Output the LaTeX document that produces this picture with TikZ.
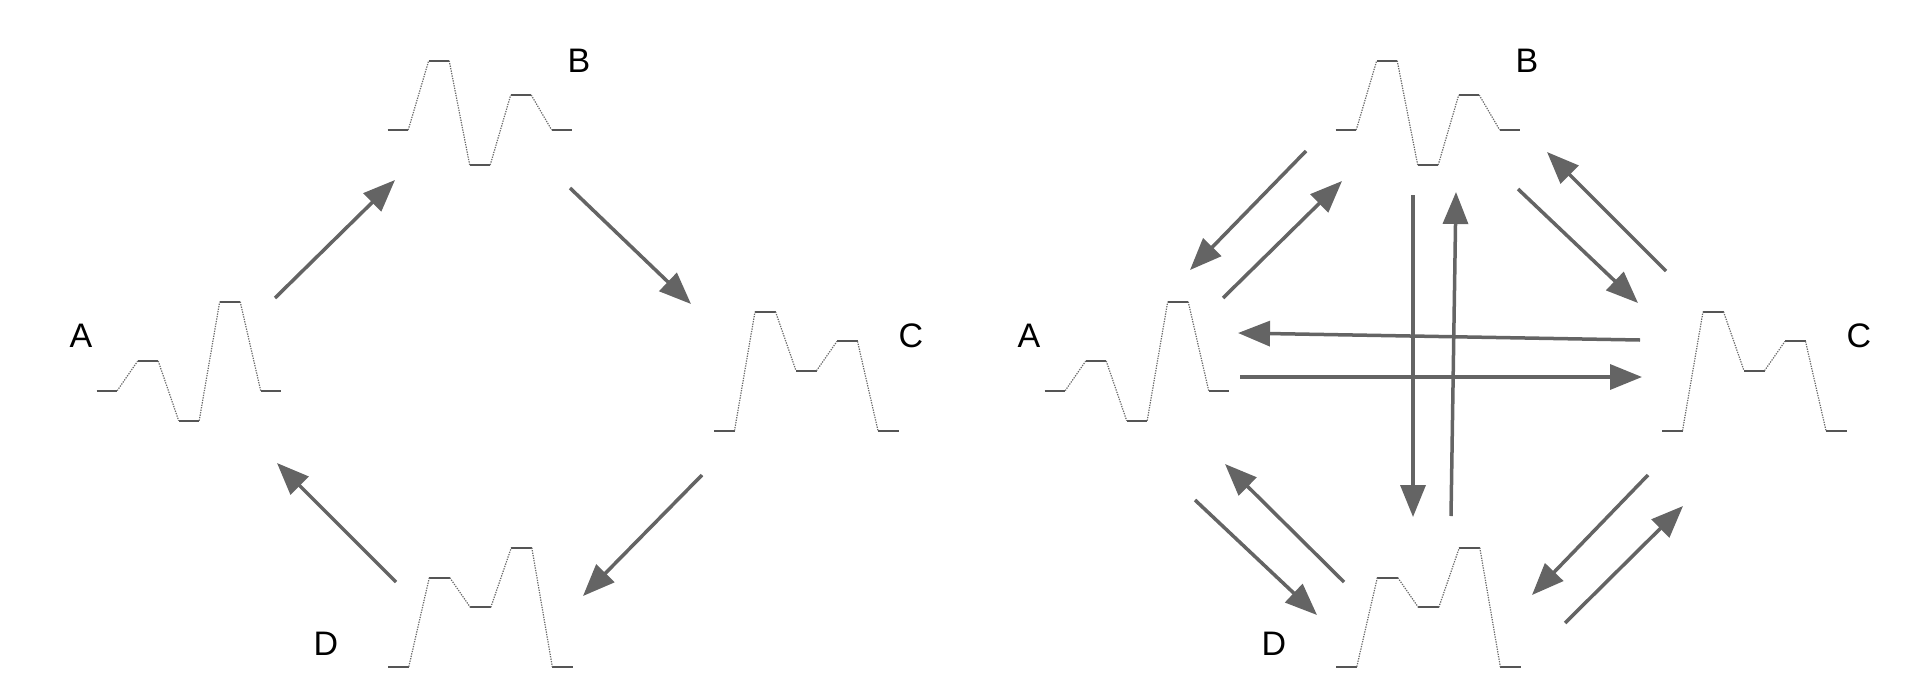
\documentclass[tikz,border=0pt]{standalone}
\usepackage{fontspec}
\setmainfont{Liberation Sans}
\usetikzlibrary{arrows.meta}
\definecolor{arrgray}{HTML}{646464}
\definecolor{platgray}{HTML}{555555}
\definecolor{dotgray}{HTML}{6A6A6A}
\tikzset{
  plat/.style={draw=platgray, line width=2pt},
  trans/.style={draw=dotgray, line width=1.2pt, dash pattern=on 1.3pt off 1.2pt},
  flow/.style={draw=arrgray, line width=3.5pt, -{Triangle[length=32pt,width=25pt]}},
  lbl/.style={font=\fontsize{34}{40}\selectfont, text=black, inner sep=0pt}
}
\newcommand\eprof[6]{%
  \draw[plat] (#1,#2) -- ++(20.5,0) (#1+41,#3) -- ++(20.5,0) (#1+82,#4) -- ++(20.5,0) (#1+123,#5) -- ++(20.5,0) (#1+164,#6) -- ++(20.5,0);
  \draw[trans] (#1+20.5,#2) -- (#1+41,#3) (#1+61.5,#3) -- (#1+82,#4) (#1+102.5,#4) -- (#1+123,#5) (#1+143.5,#5) -- (#1+164,#6);
}
\begin{document}
\begin{tikzpicture}[x=1pt,y=-1pt]
\useasboundingbox (0,0) rectangle (1908,691);
% ---- left diagram: profiles
\eprof{96.7}{390.7}{361}{420.7}{301.7}{390.7}
\eprof{387.7}{130}{60.7}{165}{95}{130}
\eprof{714}{430.7}{311.7}{370.7}{341.3}{430.7}
\eprof{388.3}{666.7}{577.7}{607.3}{547.7}{666.7}
% ---- right diagram: profiles
\eprof{1044.7}{390.7}{361}{420.7}{301.7}{390.7}
\eprof{1335.7}{130}{60.7}{165}{95}{130}
\eprof{1662}{430.7}{311.7}{370.7}{341.3}{430.7}
\eprof{1336.3}{666.7}{577.7}{607.3}{547.7}{666.7}
% ---- labels
\node[lbl] (lA) at (81,336) {A};
\node[lbl] (lB) at (579,61) {B};
\node[lbl] (lC) at (911,336) {C};
\node[lbl] (lD) at (326,644) {D};
\node[lbl] (rA) at (1029,336) {A};
\node[lbl] (rB) at (1527,61) {B};
\node[lbl] (rC) at (1859,336) {C};
\node[lbl] (rD) at (1274,644) {D};
% ---- left arrow endpoints
\coordinate (lab1) at (275,298);
\coordinate (lab2) at (395,180);
\coordinate (lbc1) at (570,188);
\coordinate (lbc2) at (691,304);
\coordinate (lcd1) at (702,475);
\coordinate (lcd2) at (583,596);
\coordinate (lda1) at (396,582);
\coordinate (lda2) at (277,463);
\draw[flow] (lab1) -- (lab2);
\draw[flow] (lbc1) -- (lbc2);
\draw[flow] (lcd1) -- (lcd2);
\draw[flow] (lda1) -- (lda2);
% ---- right arrow endpoints
\coordinate (rba1) at (1306,151);
\coordinate (rba2) at (1190,270);
\coordinate (rab1) at (1223,298);
\coordinate (rab2) at (1342,181);
\coordinate (rbc1) at (1518,189);
\coordinate (rbc2) at (1638,303);
\coordinate (rcb1) at (1666,271);
\coordinate (rcb2) at (1547,152);
\coordinate (rca1) at (1640,340);
\coordinate (rca2) at (1238,333);
\coordinate (rac1) at (1240,377);
\coordinate (rac2) at (1642,377);
\coordinate (rbd1) at (1413,195);
\coordinate (rbd2) at (1413,517);
\coordinate (rdb1) at (1451,516);
\coordinate (rdb2) at (1456,192);
\coordinate (rad1) at (1195,500);
\coordinate (rad2) at (1317,615);
\coordinate (rda1) at (1344,582);
\coordinate (rda2) at (1225,464);
\coordinate (rcd1) at (1648,475);
\coordinate (rcd2) at (1532,595);
\coordinate (rdc1) at (1565,623);
\coordinate (rdc2) at (1683,506);
\draw[flow] (rba1) -- (rba2);
\draw[flow] (rab1) -- (rab2);
\draw[flow] (rbc1) -- (rbc2);
\draw[flow] (rcb1) -- (rcb2);
\draw[flow] (rca1) -- (rca2);
\draw[flow] (rac1) -- (rac2);
\draw[flow] (rbd1) -- (rbd2);
\draw[flow] (rdb1) -- (rdb2);
\draw[flow] (rad1) -- (rad2);
\draw[flow] (rda1) -- (rda2);
\draw[flow] (rcd1) -- (rcd2);
\draw[flow] (rdc1) -- (rdc2);
\end{tikzpicture}
\end{document}
